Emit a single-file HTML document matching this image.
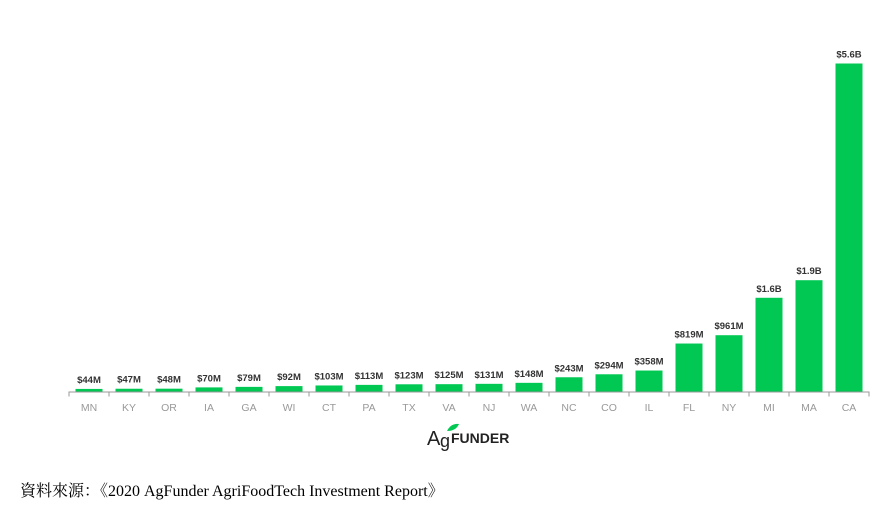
<!DOCTYPE html>
<html><head><meta charset="utf-8"><style>
body{margin:0;background:#fff;width:881px;height:505px;overflow:hidden;position:relative;font-family:"Liberation Sans",sans-serif}
#src{position:absolute;left:20px;top:478px;font-family:"Liberation Serif","Noto Serif CJK SC",serif;font-size:16px;color:#000;white-space:nowrap}
</style></head><body>
<svg id="chart" width="881" height="470" style="position:absolute;left:0;top:0"></svg>
<div id="src">資料來源：《2020 AgFunder AgriFoodTech Investment Report》</div>
<script>
const categories=["MN","KY","OR","IA","GA","WI","CT","PA","TX","VA","NJ","WA","NC","CO","IL","FL","NY","MI","MA","CA"];
const values=[44,47,48,70,79,92,103,113,123,125,131,148,243,294,358,819,961,1600,1900,5600];
const valueLabels=["$44M","$47M","$48M","$70M","$79M","$92M","$103M","$113M","$123M","$125M","$131M","$148M","$243M","$294M","$358M","$819M","$961M","$1.6B","$1.9B","$5.6B"];
const svg=document.getElementById('chart');const NS='http://www.w3.org/2000/svg';
const x0=69,band=40,barW=27,base=391.5,maxV=5600,maxH=328;
const xs=i=>x0+i*band; const ys=v=>base-v/maxV*maxH;
function el(t,a,p){const e=document.createElementNS(NS,t);for(const k in a)e.setAttribute(k,a[k]);(p||svg).appendChild(e);return e;}
const ax=el('line',{x1:x0,x2:x0+categories.length*band,y1:base+0.5,y2:base+0.5,stroke:'#999','stroke-width':1});


for(let i=0;i<=categories.length;i++){const t=el('line',{x1:xs(i),x2:xs(i),y1:base,y2:base+5,stroke:'#999'});

}
categories.forEach((c,i)=>{
const cx=xs(i)+band/2,y=ys(values[i]);
const r=el('rect',{x:cx-barW/2,y:y,width:barW,height:base-y,fill:'#00c853'});


const v=el('text',{x:cx,y:y-6,'text-anchor':'middle','font-size':'9.5','font-weight':'bold',fill:'#333'});v.textContent=valueLabels[i];


const l=el('text',{x:cx,y:411,'text-anchor':'middle','font-size':'10.5',fill:'#999'});l.textContent=c;


});
const g=el('g',{});


const a=el('text',{x:427,y:445,'font-size':'20',fill:'#222'},g);a.textContent='A';
const gg=el('text',{x:440,y:447,'font-size':'18',fill:'#222'},g);gg.textContent='g';
el('path',{d:'M447 431 q4 -8 12 -7 q-3 7 -12 7z',fill:'#00c853'},g);
const f=el('text',{x:451,y:443,'font-size':'14','font-weight':'bold',fill:'#222'},g);f.textContent='FUNDER';
</script>
</body></html>
